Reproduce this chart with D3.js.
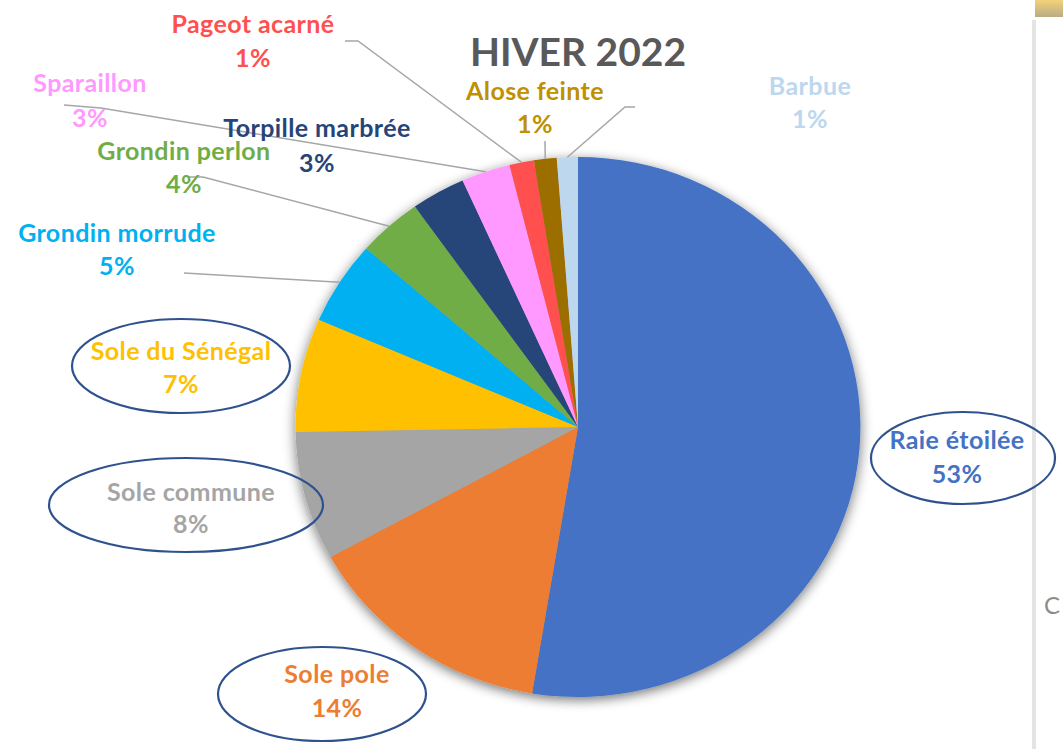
<!DOCTYPE html>
<html>
<head>
<meta charset="utf-8">
<script src="https://cdn.jsdelivr.net/npm/d3@7"></script>
<style>
  html, body { margin: 0; padding: 0; background: #fff; }
  svg { display: block; }
  text { font-family: Lato, "Open Sans", sans-serif; font-weight: bold; }
</style>
</head>
<body>
<svg id="chart" width="1063" height="749"></svg>
<script>
// ---- data ----
const title = "HIVER 2022";
const categories = ["Raie étoilée", "Sole pole", "Sole commune", "Sole du Sénégal",
  "Grondin morrude", "Grondin perlon", "Torpille marbrée", "Sparaillon",
  "Pageot acarné", "Alose feinte", "Barbue"];
const values = [52.6, 14.4, 7.7, 6.8, 5.0, 3.7, 3.1, 2.8, 1.4, 1.3, 1.2];
const sliceColors = ["#4472C4", "#ED7D31", "#A5A5A5", "#FFC000", "#00B0F0", "#70AD47",
  "#264478", "#FF99FF", "#FF5050", "#9C6E00", "#BDD7EE"];
const labelColors = ["#4472C4", "#ED7D31", "#A5A5A5", "#FFC000", "#00B0F0", "#70AD47",
  "#264478", "#FF99FF", "#FF5050", "#BF9000", "#BDD7EE"];
const circled = ["Raie étoilée", "Sole pole", "Sole commune", "Sole du Sénégal"];

// ---- layout ----
const W = 1063, H = 749;
const cx = 578, cy = 427, R = 270, sx = 1.046;
const labelLayout = {
  "Raie étoilée":    { x: 957, y1: 449, y2: 483 },
  "Sole pole":       { x: 337, y1: 683, y2: 717 },
  "Sole commune":    { x: 191, y1: 501, y2: 533 },
  "Sole du Sénégal": { x: 181, y1: 360, y2: 393 },
  "Grondin morrude": { x: 117, y1: 242, y2: 275, leader: [[184, 273]] },
  "Grondin perlon":  { x: 184, y1: 160, y2: 193, leader: [[189, 177], [203, 177]] },
  "Torpille marbrée":{ x: 317, y1: 137, y2: 172 },
  "Sparaillon":      { x: 90,  y1: 92,  y2: 127, leader: [[64, 105], [101, 108]] },
  "Pageot acarné":   { x: 253, y1: 33,  y2: 67,  leader: [[345, 41], [358, 41]] },
  "Alose feinte":    { x: 535, y1: 100, y2: 133, leader: [[545, 141]] },
  "Barbue":          { x: 810, y1: 95,  y2: 128, leader: [[635, 107], [625, 107]] }
};
const ellipses = {
  "Raie étoilée":    { cx: 963, cy: 458, rx: 92,  ry: 46 },
  "Sole pole":       { cx: 322, cy: 694, rx: 104, ry: 47 },
  "Sole commune":    { cx: 186, cy: 505, rx: 137, ry: 47 },
  "Sole du Sénégal": { cx: 181, cy: 366, rx: 109, ry: 47 }
};

const svg = d3.select("#chart");
const defs = svg.append("defs");
const f = defs.append("filter").attr("id", "shadow")
  .attr("x", "-20%").attr("y", "-20%").attr("width", "140%").attr("height", "140%");
f.append("feGaussianBlur").attr("in", "SourceAlpha").attr("stdDeviation", 6).attr("result", "b");
f.append("feOffset").attr("in", "b").attr("dx", 0).attr("dy", 3).attr("result", "o");
f.append("feComponentTransfer").attr("in", "o").attr("result", "s")
  .append("feFuncA").attr("type", "linear").attr("slope", 0.55);
const fm = f.append("feMerge");
fm.append("feMergeNode").attr("in", "s");
fm.append("feMergeNode").attr("in", "SourceGraphic");

defs.append("clipPath").attr("id", "plotclip")
  .append("rect").attr("x", 0).attr("y", 0).attr("width", 1024).attr("height", H);

const grad = defs.append("linearGradient").attr("id", "gold").attr("x1", 0).attr("y1", 0).attr("x2", 0).attr("y2", 1);
grad.append("stop").attr("offset", "0%").attr("stop-color", "#f3d27a");
grad.append("stop").attr("offset", "100%").attr("stop-color", "#b9ab84");

// window decorations at the right edge
svg.append("rect").attr("x", 1035).attr("y", 0).attr("width", 28).attr("height", 17).attr("fill", "url(#gold)");
svg.append("rect").attr("x", 1032).attr("y", 20).attr("width", 4).attr("height", H - 20).attr("fill", "#e4e4e4");
svg.append("text").attr("x", 1044).attr("y", 614).attr("font-size", 24)
  .attr("fill", "#8c8c8c").style("font-weight", "normal").text("C");

// ---- pie ----
const pie = d3.pie().sort(null).value(d => d.value);
const data = categories.map((c, i) => ({ name: c, value: values[i], color: sliceColors[i], lc: labelColors[i] }));
const arcs = pie(data);
const total = d3.sum(values);
const fmtPct = v => d3.format(".0%")(v / total);
const arc = d3.arc().innerRadius(0).outerRadius(R);

const g = svg.append("g").attr("transform", `translate(${cx},${cy})`);
const pg = g.append("g").attr("transform", `scale(${sx},1)`).attr("filter", "url(#shadow)");
pg.selectAll("path").data(arcs).join("path")
  .attr("d", arc).attr("fill", d => d.data.color);

function edgePoint(a) {
  const m = (a.startAngle + a.endAngle) / 2;
  return [cx + sx * R * Math.sin(m), cy - R * Math.cos(m)];
}

// leader lines
const lineGen = d3.line();
arcs.forEach(a => {
  const L = labelLayout[a.data.name];
  if (L && L.leader) {
    const pts = L.leader.concat([edgePoint(a)]);
    svg.append("path").attr("d", lineGen(pts)).attr("fill", "none")
      .attr("stroke", "#A6A6A6").attr("stroke-width", 1.5);
  }
});

// title
svg.append("text").attr("x", 578).attr("y", 66).attr("text-anchor", "middle")
  .attr("font-size", 39).attr("fill", "#595959").text(title);

// labels
const lg = svg.append("g").attr("clip-path", "url(#plotclip)");
arcs.forEach(a => {
  const L = labelLayout[a.data.name];
  lg.append("text").attr("x", L.x).attr("y", L.y1).attr("text-anchor", "middle")
    .attr("font-size", 25).attr("letter-spacing", 0.4).attr("fill", a.data.lc).text(a.data.name);
  lg.append("text").attr("x", L.x).attr("y", L.y2).attr("text-anchor", "middle")
    .attr("font-size", 25).attr("letter-spacing", 0.4).attr("fill", a.data.lc).text(fmtPct(a.data.value));
});

// hand-drawn ellipses
circled.forEach(n => {
  const e = ellipses[n];
  svg.append("ellipse").attr("cx", e.cx).attr("cy", e.cy).attr("rx", e.rx).attr("ry", e.ry)
    .attr("fill", "none").attr("stroke", "#2F528F").attr("stroke-width", 2.2);
});
</script>
</body>
</html>
